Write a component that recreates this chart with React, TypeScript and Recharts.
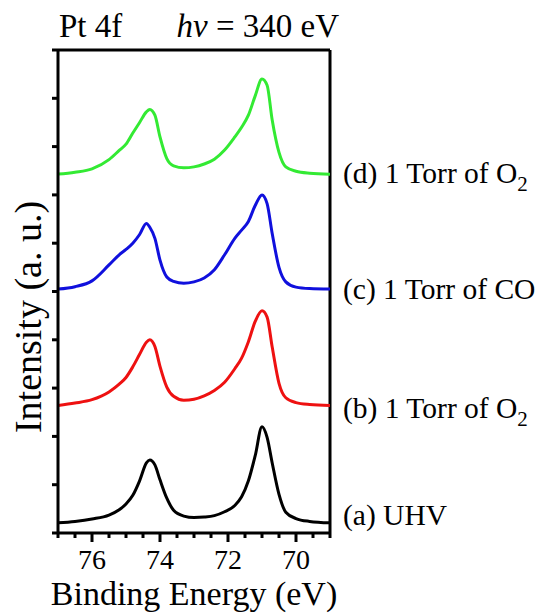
import React from 'react';
import { LineChart, Line, XAxis, YAxis, ReferenceLine } from 'recharts';

// binding energy grid (eV)
const energies = [
  77.0, 76.5, 76.0, 75.5, 75.2, 75.0, 74.8, 74.6, 74.4, 74.3, 74.15, 74.0, 73.8, 73.6, 73.3, 73.0,
  72.7, 72.4, 72.1, 71.8, 71.6, 71.4, 71.2, 71.0, 70.85, 70.7, 70.5, 70.3, 70.0, 69.6, 69.0,
];

// (a) UHV
const uhv = [
  0.21, 0.24, 0.29, 0.37, 0.48, 0.6, 0.78, 1.08, 1.45, 1.51, 1.41, 1.1, 0.72, 0.47, 0.35, 0.32,
  0.33, 0.36, 0.44, 0.57, 0.75, 1.08, 1.6, 2.2, 1.98, 1.45, 0.8, 0.43, 0.3, 0.24, 0.21,
];

// (b) 1 Torr of O2
const torrO2b = [
  2.64, 2.69, 2.76, 2.92, 3.08, 3.22, 3.44, 3.7, 3.95, 4.0, 3.86, 3.45, 3.02, 2.83, 2.75, 2.77,
  2.84, 2.95, 3.12, 3.4, 3.62, 3.96, 4.38, 4.6, 4.47, 3.85, 3.1, 2.8, 2.7, 2.66, 2.64,
];

// (c) 1 Torr of CO
const torrCO = [
  5.05, 5.1, 5.22, 5.55, 5.76, 5.87, 6.0, 6.18, 6.41, 6.33, 6.1, 5.65, 5.3, 5.21, 5.17, 5.2,
  5.28, 5.45, 5.76, 6.1, 6.27, 6.45, 6.78, 7.0, 6.82, 6.2, 5.5, 5.2, 5.09, 5.06, 5.05,
];

// (d) 1 Torr of O2
const torrO2d = [
  7.43, 7.47, 7.54, 7.73, 7.92, 8.05, 8.28, 8.5, 8.72, 8.77, 8.65, 8.2, 7.75, 7.6, 7.56, 7.58,
  7.64, 7.74, 7.93, 8.2, 8.4, 8.65, 9.05, 9.4, 9.27, 8.55, 7.88, 7.58, 7.49, 7.45, 7.43,
];

const xTicks = [77, 76.5, 76, 75.5, 75, 74.5, 74, 73.5, 73, 72.5, 72, 71.5, 71, 70.5, 70, 69.5, 69];
const xLabels = [76, 74, 72, 70];
const yTicks = [0, 1, 2, 3, 4, 5, 6, 7, 8, 9, 10];

const data = energies.map((e, i) => ({
  e,
  a: uhv[i],
  b: torrO2b[i],
  c: torrCO[i],
  d: torrO2d[i],
}));

const FONT = '"Liberation Serif", "Times New Roman", serif';

const XTick = (props: any) => {
  const { x, y, payload } = props;
  const major = xLabels.includes(payload.value);
  return (
    <g>
      <line x1={x} x2={x} y1={y} y2={y + (major ? 9 : 5)} stroke="#000" strokeWidth={3} />
      {major && (
        <text
          x={x}
          y={y + 36}
          textAnchor="middle"
          style={{ fontSize: 28, fontFamily: FONT, fill: '#000' }}
        >
          {payload.value}
        </text>
      )}
    </g>
  );
};

const YTick = (props: any) => {
  const { x, y } = props;
  return <line x1={x} x2={x - 6} y1={y} y2={y} stroke="#000" strokeWidth={3} />;
};

export default function App() {
  return (
    <div style={{ position: 'absolute', left: 0, top: 0, width: 538, height: 613, background: '#fff' }}>
      <LineChart
        width={538}
        height={613}
        data={data}
        margin={{ top: 50, right: 208, bottom: 0, left: 0 }}
      >
        <XAxis
          dataKey="e"
          type="number"
          domain={[69, 77]}
          reversed
          ticks={xTicks}
          interval={0}
          height={80}
          tickSize={0}
          tickMargin={0}
          tickLine={false}
          tick={(p: any) => <XTick {...p} />}
          axisLine={{ stroke: '#000', strokeWidth: 3 }}
          allowDataOverflow
        />
        <YAxis
          type="number"
          domain={[0, 10]}
          ticks={yTicks}
          interval={0}
          width={58}
          tickSize={0}
          tickMargin={0}
          tickLine={false}
          tick={(p: any) => <YTick {...p} />}
          axisLine={{ stroke: '#000', strokeWidth: 3 }}
          allowDataOverflow
        />
        <ReferenceLine y={10} stroke="#000" strokeWidth={3} />
        <ReferenceLine x={69} stroke="#000" strokeWidth={3} />
        <Line type="monotone" dataKey="a" stroke="#000000" strokeWidth={3} dot={false} isAnimationActive={false} />
        <Line type="monotone" dataKey="b" stroke="#ee1111" strokeWidth={3} dot={false} isAnimationActive={false} />
        <Line type="monotone" dataKey="c" stroke="#1010dd" strokeWidth={3} dot={false} isAnimationActive={false} />
        <Line type="monotone" dataKey="d" stroke="#33ea33" strokeWidth={3} dot={false} isAnimationActive={false} />
      </LineChart>
      <svg
        width={538}
        height={613}
        style={{ position: 'absolute', left: 0, top: 0, pointerEvents: 'none' }}
        fontFamily={FONT}
        fill="#000"
      >
        <text x={59} y={37} fontSize={33}>Pt 4f</text>
        <text x={339} y={37} fontSize={33} textAnchor="end">
          <tspan fontStyle="italic">hv</tspan> = 340 eV
        </text>
        <text x={343} y={183} fontSize={29.5}>
          (d) 1 Torr of O<tspan fontSize={21} dy={8}>2</tspan>
        </text>
        <text x={343} y={299} fontSize={29.5}>(c) 1 Torr of CO</text>
        <text x={343} y={418} fontSize={29.5}>
          (b) 1 Torr of O<tspan fontSize={21} dy={8}>2</tspan>
        </text>
        <text x={343} y={525} fontSize={29.5}>(a) UHV</text>
        <text x={194} y={605} fontSize={34} textAnchor="middle">Binding Energy (eV)</text>
        <text
          x={0}
          y={0}
          fontSize={38}
          textAnchor="middle"
          transform="translate(41 317) rotate(-90)"
        >
          Intensity (a. u.)
        </text>
      </svg>
    </div>
  );
}
